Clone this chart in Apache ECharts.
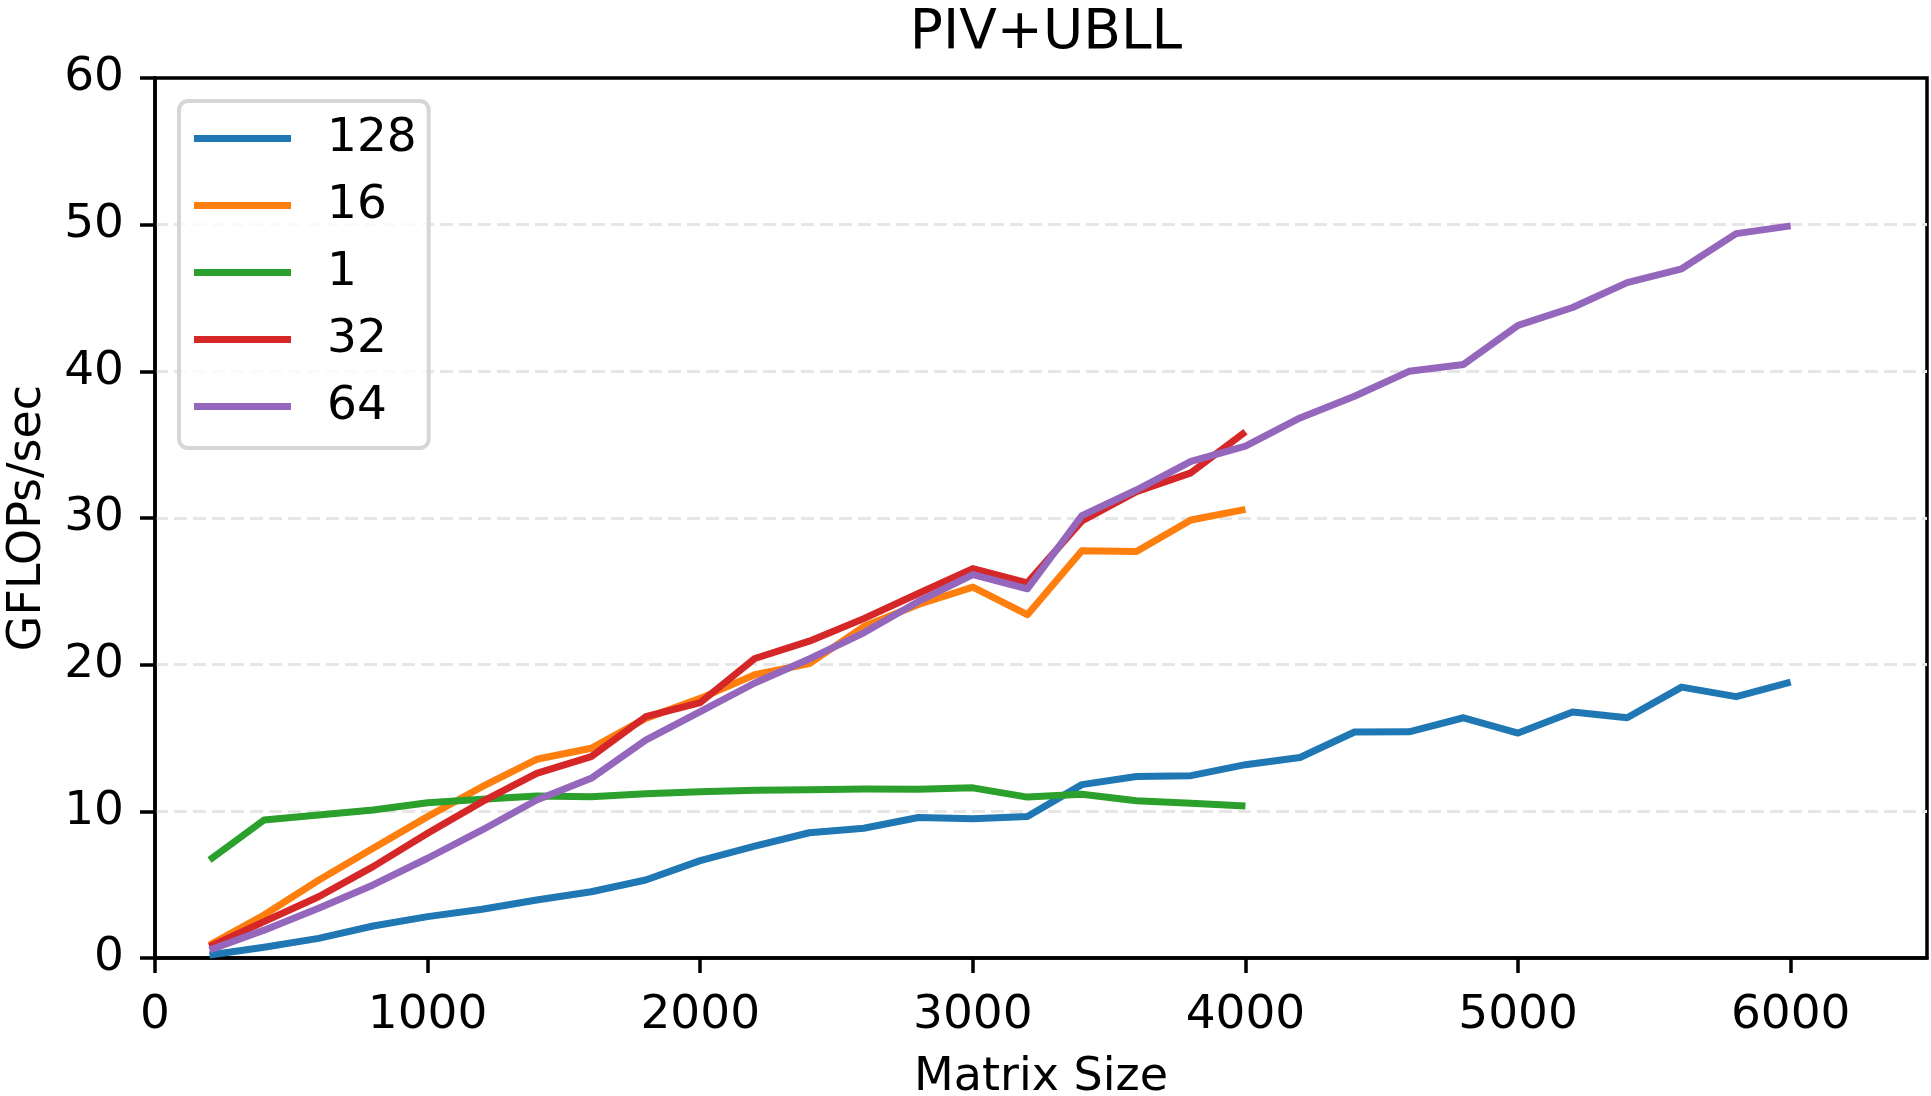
<!DOCTYPE html>
<html>
<head>
<meta charset="utf-8">
<script src="https://cdn.jsdelivr.net/npm/echarts@6/dist/echarts.min.js"></script>
<style>
  html, body { margin: 0; padding: 0; background: #fff; }
  #chart { width: 1931px; height: 1096px; }
</style>
</head>
<body>
<div id="chart"></div>
<script>
// Matrix sizes at which each block size was benchmarked
const sizesLong = [200, 400, 600, 800, 1000, 1200, 1400, 1600, 1800, 2000,
                   2200, 2400, 2600, 2800, 3000, 3200, 3400, 3600, 3800, 4000,
                   4200, 4400, 4600, 4800, 5000, 5200, 5400, 5600, 5800, 6000];
const sizesShort = [200, 400, 600, 800, 1000, 1200, 1400, 1600, 1800, 2000,
                    2200, 2400, 2600, 2800, 3000, 3200, 3400, 3600, 3800, 4000];

// GFLOPs/sec per block size
const gflops128 = [0.2, 0.73, 1.34, 2.18, 2.82, 3.32, 3.95, 4.52, 5.32, 6.64,
                   7.62, 8.54, 8.85, 9.58, 9.5, 9.65, 11.82, 12.38, 12.43, 13.18,
                   13.67, 15.41, 15.42, 16.38, 15.34, 16.77, 16.38, 18.47, 17.82, 18.81];
const gflops16 = [0.89, 2.93, 5.3, 7.48, 9.64, 11.68, 13.55, 14.3, 16.34, 17.7,
                  19.31, 20.07, 22.6, 24.1, 25.29, 23.41, 27.77, 27.72, 29.86, 30.59];
const gflops1 = [6.68, 9.41, 9.75, 10.09, 10.59, 10.82, 11.04, 11.0, 11.2, 11.34,
                 11.43, 11.48, 11.53, 11.5, 11.6, 10.97, 11.16, 10.72, 10.55, 10.36];
const gflops32 = [0.77, 2.48, 4.18, 6.23, 8.5, 10.66, 12.59, 13.73, 16.45, 17.41,
                  20.42, 21.6, 23.14, 24.85, 26.55, 25.58, 29.8, 31.8, 33.08, 35.88];
const gflops64 = [0.55, 1.9, 3.39, 4.98, 6.8, 8.73, 10.77, 12.25, 14.86, 16.8,
                  18.75, 20.39, 22.17, 24.31, 26.14, 25.17, 30.16, 31.91, 33.86, 34.9,
                  36.82, 38.3, 40.0, 40.47, 43.13, 44.35, 46.05, 46.99, 49.39, 49.92];

const seriesNames = ['128', '16', '1', '32', '64'];
const seriesColors = ['#1f77b4', '#ff7f0e', '#2ca02c', '#d62728', '#9467bd'];
const seriesX = [sizesLong, sizesShort, sizesShort, sizesShort, sizesLong];
const seriesY = [gflops128, gflops16, gflops1, gflops32, gflops64];

const FONT = 'DejaVu Sans';

const chart = echarts.init(document.getElementById('chart'), null, { renderer: 'canvas' });

const series = seriesNames.map((name, i) => ({
  name: name,
  type: 'line',
  data: seriesX[i].map((x, j) => [x, seriesY[i][j]]),
  showSymbol: false,
  symbol: 'none',
  lineStyle: { color: seriesColors[i], width: 7, join: 'round' },
  itemStyle: { color: seriesColors[i] },
  emphasis: { disabled: true },
  animation: false,
  z: 2 + i
}));

chart.setOption({
  backgroundColor: '#ffffff',
  animation: false,
  title: {
    text: 'PIV+UBLL',
    left: 1041,
    textAlign: 'center',
    top: 1,
    textStyle: { fontFamily: FONT, fontSize: 55, fontWeight: 'normal', color: '#000' }
  },
  legend: {
    orient: 'vertical',
    left: 179,
    top: 101,
    data: seriesNames,
    icon: 'rect',
    itemWidth: 97,
    itemHeight: 7,
    itemGap: 20,
    padding: [14, 12, 18, 15],
    backgroundColor: 'rgba(255,255,255,0.8)',
    borderColor: '#d6d6d6',
    borderWidth: 4,
    borderRadius: 9,
    textStyle: {
      fontFamily: FONT, fontSize: 47, color: '#000',
      lineHeight: 47, padding: [0, 0, 0, 31]
    }
  },
  grid: {
    left: 155, right: 4, top: 78, bottom: 138,
    show: true, borderColor: '#000', borderWidth: 3.5,
    containLabel: false,
    outerBoundsMode: 'none'
  },
  xAxis: {
    type: 'value',
    min: 0, max: 6500, interval: 1000,
    name: 'Matrix Size',
    nameLocation: 'middle',
    nameGap: 97,
    nameTextStyle: { fontFamily: FONT, fontSize: 46, color: '#000' },
    axisLine: { show: true, lineStyle: { color: '#000', width: 3.5 } },
    axisTick: { show: true, inside: false, length: 15, lineStyle: { color: '#000', width: 3.5 } },
    axisLabel: {
      fontFamily: FONT, fontSize: 47, color: '#000', margin: 34,
      showMaxLabel: false,
      formatter: (v) => String(v)
    },
    splitLine: { show: false }
  },
  yAxis: {
    type: 'value',
    min: 0, max: 60, interval: 10,
    name: 'GFLOPs/sec',
    nameLocation: 'middle',
    nameGap: 104,
    nameRotate: 90,
    nameTextStyle: { fontFamily: FONT, fontSize: 46, color: '#000' },
    axisLine: { show: true, lineStyle: { color: '#000', width: 3.5 } },
    axisTick: { show: true, inside: false, length: 15, lineStyle: { color: '#000', width: 3.5 } },
    axisLabel: { fontFamily: FONT, fontSize: 47, color: '#000', margin: 31 },
    splitLine: {
      show: true,
      showMinLine: false,
      showMaxLine: false,
      lineStyle: { color: '#e6e6e6', width: 3, type: [13, 6] }
    }
  },
  series: series
});
</script>
</body>
</html>
